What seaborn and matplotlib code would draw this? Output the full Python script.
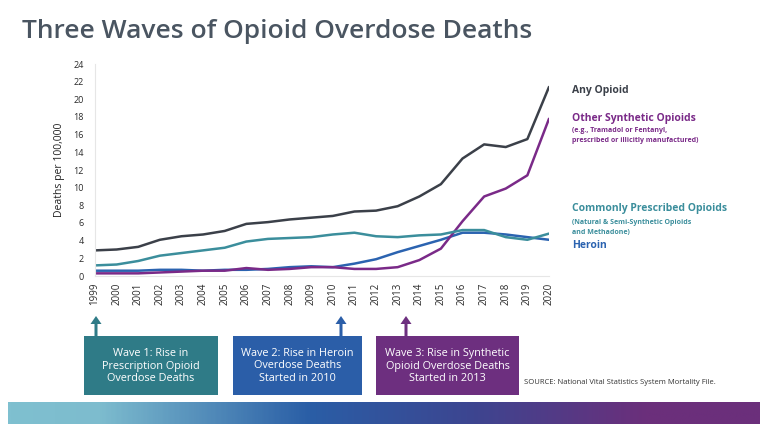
import numpy as np
import pandas as pd
import seaborn as sns
import matplotlib.pyplot as plt
from matplotlib.patches import Rectangle, FancyArrow
from matplotlib.colors import LinearSegmentedColormap

# data (deaths per 100,000)
years = list(range(1999, 2021))
any_opioid = [2.9, 3.0, 3.3, 4.1, 4.5, 4.7, 5.1, 5.9, 6.1, 6.4, 6.6,
              6.8, 7.3, 7.4, 7.9, 9.0, 10.4, 13.3, 14.9, 14.6, 15.5, 21.4]
synthetic = [0.3, 0.3, 0.3, 0.4, 0.5, 0.6, 0.6, 0.9, 0.7, 0.8, 1.0,
             1.0, 0.8, 0.8, 1.0, 1.8, 3.1, 6.2, 9.0, 9.9, 11.4, 17.8]
prescribed = [1.2, 1.3, 1.7, 2.3, 2.6, 2.9, 3.2, 3.9, 4.2, 4.3, 4.4,
              4.7, 4.9, 4.5, 4.4, 4.6, 4.7, 5.2, 5.2, 4.4, 4.1, 4.8]
heroin = [0.6, 0.6, 0.6, 0.7, 0.7, 0.6, 0.7, 0.7, 0.8, 1.0, 1.1,
          1.0, 1.4, 1.9, 2.7, 3.4, 4.1, 4.9, 4.9, 4.7, 4.4, 4.1]
y_ticks = list(range(0, 25, 2))

c_any = "#3b4049"
c_syn = "#7a2a88"
c_pre = "#3b8e9c"
c_her = "#2b63b0"

sns.set_style("white")
plt.rcParams['font.family'] = ['Open Sans', 'DejaVu Sans']

fig = plt.figure(figsize=(7.68, 4.30), dpi=100)
ax = fig.add_axes([95/768, 1 - 276/430, (549 - 95)/768, (276 - 64)/430])

df = pd.DataFrame({"year": years, "any": any_opioid, "syn": synthetic,
                   "pre": prescribed, "her": heroin})
# draw order: heroin/synthetic under the others
sns.lineplot(data=df, x="year", y="her", color=c_her, lw=1.8, ax=ax)
sns.lineplot(data=df, x="year", y="syn", color=c_syn, lw=1.8, ax=ax)
sns.lineplot(data=df, x="year", y="pre", color=c_pre, lw=1.8, ax=ax)
sns.lineplot(data=df, x="year", y="any", color=c_any, lw=1.8, ax=ax)

ax.set_xlim(1999, 2020)
ax.set_ylim(0, 24)
ax.set_yticks(y_ticks)
ax.set_xticks(years)
ax.set_xticklabels([str(y) for y in years], rotation=90, fontsize=7, color="#2a2a2a")
ax.tick_params(axis="y", labelsize=6.5, colors="#2a2a2a", length=0, pad=8)
ax.tick_params(axis="x", length=0, pad=5)
ax.set_xlabel("")
ax.set_ylabel("Deaths per 100,000", fontsize=7.5, color="#222222", labelpad=6)
for s in ["top", "right"]:
    ax.spines[s].set_visible(False)
ax.spines["left"].set_color("#e6e6e6")
ax.spines["bottom"].set_color("#e6e6e6")
ax.spines["left"].set_linewidth(0.8)
ax.spines["bottom"].set_linewidth(0.8)

# title
fig.text(22/768, 1 - 32/430, "Three Waves of Opioid Overdose Deaths",
         fontsize=19, fontweight="semibold", color="#4a5561", va="center", ha="left")

# series labels on the right
lx = 572/768
def ftxt(x, y, s, **kw):
    fig.text(x, 1 - y/430, s, va="center", ha="left", **kw)

ftxt(lx, 90, "Any Opioid", fontsize=7.5, fontweight="bold", color=c_any)
ftxt(lx, 118, "Other Synthetic Opioids", fontsize=7.5, fontweight="bold", color=c_syn)
ftxt(lx, 131, "(e.g., Tramadol or Fentanyl,", fontsize=5, fontweight="bold", color=c_syn)
ftxt(lx, 141, "prescribed or illicitly manufactured)", fontsize=5, fontweight="bold", color=c_syn)
ftxt(lx, 209, "Commonly Prescribed Opioids", fontsize=7.5, fontweight="bold", color=c_pre)
ftxt(lx, 222, "(Natural & Semi-Synthetic Opioids", fontsize=5, fontweight="bold", color=c_pre)
ftxt(lx, 232, "and Methadone)", fontsize=5, fontweight="bold", color=c_pre)
ftxt(lx, 245, "Heroin", fontsize=7.5, fontweight="bold", color=c_her)

# wave boxes with arrows
boxes = [
    (84, 218, 96, "#2f7b87", "Wave 1: Rise in\nPrescription Opioid\nOverdose Deaths"),
    (233, 362, 341, "#2b5ea8", "Wave 2: Rise in Heroin\nOverdose Deaths\nStarted in 2010"),
    (376, 519, 406, "#6d2f7f", "Wave 3: Rise in Synthetic\nOpioid Overdose Deaths\nStarted in 2013"),
]
for x0, x1, ax_x, col, txt in boxes:
    fig.patches.append(Rectangle((x0/768, 1 - 395/430), (x1 - x0)/768, 59/430,
                                 transform=fig.transFigure, facecolor=col,
                                 edgecolor="none"))
    fig.text((x0 + x1)/2/768, 1 - 366/430, txt, ha="center", va="center",
             fontsize=7.8, color="white", linespacing=1.15)
    fig.patches.append(FancyArrow(ax_x/768, 1 - 336/430, 0, 20/430,
                                  width=3/768, head_width=11/768, head_length=8/430,
                                  length_includes_head=True, transform=fig.transFigure,
                                  facecolor=col, edgecolor="none"))

fig.text(524/768, 1 - 383/430, "SOURCE: National Vital Statistics System Mortality File.",
         fontsize=5.5, color="#333333", va="center", ha="left")

# gradient band at the bottom
gax = fig.add_axes([8/768, 1 - 424/430, 752/768, 22/430])
cmap = LinearSegmentedColormap.from_list(
    "band", [(0, "#7fc0d0"), (0.12, "#7dbcce"), (0.4, "#2a5ea6"),
             (0.62, "#3d4590"), (0.85, "#6b2f7b"), (1, "#6b2f7b")])
gax.imshow(np.linspace(0, 1, 400)[None, :], aspect="auto", cmap=cmap)
gax.axis("off")

fig.savefig("out.png", dpi=100)
